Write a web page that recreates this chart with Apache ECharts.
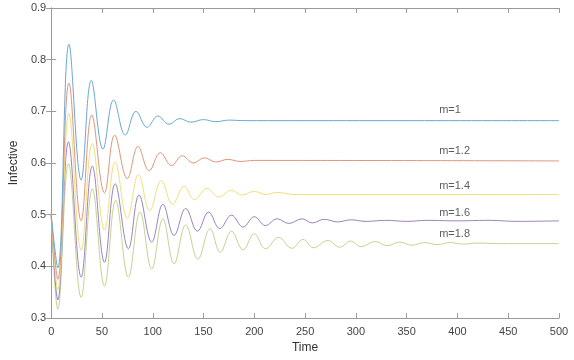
<!DOCTYPE html>
<html>
<head>
<meta charset="utf-8">
<script src="https://cdn.jsdelivr.net/npm/echarts@6/dist/echarts.min.js"></script>
<style>
  html, body { margin: 0; padding: 0; background: #fff; }
  #chart { width: 574px; height: 360px; }
</style>
</head>
<body>
<div id="chart"></div>
<script>
// values (time, infective) at extrema of each curve
const tM1 = [0, 6.5, 17.5, 29.5, 39.5, 51, 61.5, 73, 83.5, 94.5, 105, 116, 126.5, 137.5, 150, 162, 175, 190, 500];
const vM1 = [0.5, 0.397, 0.83, 0.567, 0.76, 0.627, 0.722, 0.654, 0.70, 0.669, 0.691, 0.675, 0.686, 0.679, 0.684, 0.680, 0.683, 0.682, 0.682];

const tM12 = [0, 6.5, 17.5, 29.5, 40, 52.5, 62.5, 75, 85.5, 96.5, 107.5, 118.5, 129, 140, 151, 162, 174, 186, 200, 500];
const vM12 = [0.5, 0.375, 0.755, 0.488, 0.693, 0.542, 0.654, 0.570, 0.632, 0.585, 0.620, 0.595, 0.614, 0.600, 0.610, 0.602, 0.607, 0.603, 0.605, 0.604];

const tM14 = [0, 6.5, 17.5, 29.5, 40.5, 52.5, 63, 75, 86, 97, 108.5, 119.5, 131, 141, 153.5, 165, 177.5, 188, 200, 211, 222, 240, 500];
const vM14 = [0.5, 0.355, 0.696, 0.431, 0.638, 0.470, 0.602, 0.493, 0.578, 0.508, 0.566, 0.520, 0.555, 0.529, 0.551, 0.534, 0.547, 0.538, 0.545, 0.539, 0.543, 0.539, 0.539];

const tM16 = [0, 6.5, 17, 29.5, 40.5, 52.5, 63, 76, 86.5, 99, 110, 121, 132.5, 144, 155, 166, 177.5, 189, 200, 211, 222.5, 234, 247, 257, 269, 282, 295, 310, 330, 350, 370, 400, 430, 460, 500];
const vM16 = [0.5, 0.335, 0.641, 0.379, 0.594, 0.408, 0.560, 0.434, 0.538, 0.447, 0.520, 0.460, 0.512, 0.468, 0.505, 0.473, 0.499, 0.476, 0.496, 0.479, 0.492, 0.483, 0.492, 0.484, 0.491, 0.486, 0.490, 0.487, 0.489, 0.487, 0.489, 0.488, 0.489, 0.487, 0.488];

const tM18 = [0, 6.5, 17, 29.5, 40.5, 52.5, 63.5, 76, 87.5, 99, 110, 121, 132.5, 144.5, 156.5, 166.5, 177.5, 189, 200, 211, 224, 237, 248, 258, 272.5, 284, 295, 305, 319, 331, 343, 355, 368, 380, 393, 405, 420, 440, 500];
const vM18 = [0.5, 0.317, 0.599, 0.340, 0.550, 0.362, 0.528, 0.379, 0.505, 0.395, 0.492, 0.405, 0.480, 0.414, 0.473, 0.427, 0.468, 0.432, 0.463, 0.434, 0.456, 0.435, 0.452, 0.436, 0.450, 0.437, 0.449, 0.438, 0.448, 0.440, 0.447, 0.441, 0.446, 0.442, 0.446, 0.443, 0.445, 0.444, 0.444];

const seriesNames = ['m=1', 'm=1.2', 'm=1.4', 'm=1.6', 'm=1.8'];
const seriesT = [tM1, tM12, tM14, tM16, tM18];
const seriesV = [vM1, vM12, vM14, vM16, vM18];
const seriesColors = ['#6aa9d2', '#e0957c', '#f1df7c', '#9c83bf', '#c6d294'];

// curve annotations
const labelText = ['m=1', 'm=1.2', 'm=1.4', 'm=1.6', 'm=1.8'];
const labelT = [382, 382, 382, 382, 382];
const labelV = [0.702, 0.623, 0.556, 0.504, 0.462];

const FONT = '"Liberation Sans Narrow", "Liberation Sans", Arial, sans-serif';
const AXIS_GREY = '#9a9a9a';

const chart = echarts.init(document.getElementById('chart'));

const lineSeries = seriesNames.map((name, i) => ({
  name,
  type: 'line',
  data: seriesT[i].map((t, k) => [t, seriesV[i][k]]),
  smooth: 0.4,
  showSymbol: false,
  lineStyle: { width: 1, color: seriesColors[i] },
  itemStyle: { color: seriesColors[i] },
  z: 5 - i,
}));

const inner = {
  axisLine: { show: true, lineStyle: { color: AXIS_GREY, width: 1 } },
  axisTick: { show: true, inside: true, length: 5, lineStyle: { color: AXIS_GREY } },
  splitLine: { show: false },
};

chart.setOption({
  animation: false,
  backgroundColor: '#fff',
  grid: { left: 41, right: 15, top: 8, bottom: 42 },
  xAxis: [
    {
      type: 'value', min: 0, max: 500, interval: 50, position: 'bottom',
      name: 'Time', nameLocation: 'middle', nameGap: 22,
      nameTextStyle: { fontFamily: FONT, fontSize: 12, color: '#333' },
      axisLabel: { fontFamily: FONT, fontSize: 11, color: '#444', margin: 8 },
      ...inner,
    },
    {
      type: 'value', min: 0, max: 500, interval: 50, position: 'top',
      axisLabel: { show: false },
      ...inner,
    },
  ],
  yAxis: [
    {
      type: 'value', min: 0.3, max: 0.9, interval: 0.1, position: 'left',
      name: 'Infective', nameLocation: 'middle', nameGap: 27,
      nameTextStyle: { fontFamily: FONT, fontSize: 12, color: '#333' },
      axisLabel: {
        fontFamily: FONT, fontSize: 11, color: '#444', margin: 5,
        formatter: (v) => v.toFixed(1),
      },
      ...inner,
    },
    {
      type: 'value', min: 0.3, max: 0.9, interval: 0.1, position: 'right',
      axisLabel: { show: false },
      ...inner,
    },
  ],
  series: [
    ...lineSeries,
    {
      type: 'scatter',
      symbolSize: 0,
      silent: true,
      data: labelText.map((txt, i) => [labelT[i], labelV[i], txt]),
      label: {
        show: true,
        position: 'right',
        distance: 0,
        fontFamily: FONT,
        fontSize: 11,
        color: '#333',
        formatter: (p) => p.value[2],
      },
      z: 10,
    },
  ],
});

window.addEventListener('resize', () => chart.resize());
</script>
</body>
</html>
